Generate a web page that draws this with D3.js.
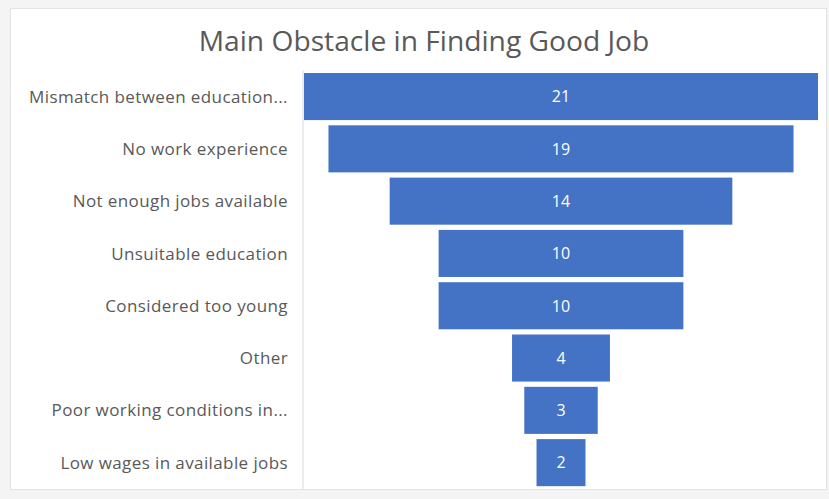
<!DOCTYPE html>
<html>
<head>
<meta charset="utf-8">
<script src="https://cdn.jsdelivr.net/npm/d3@7"></script>
<style>
  html, body { margin: 0; padding: 0; background: #f4f4f4; }
  svg { display: block; }
</style>
</head>
<body>
<svg id="chart" width="829" height="499"></svg>
<script>
// Funnel data: obstacle categories and their counts
const categories = [
  "Mismatch between education...",
  "No work experience",
  "Not enough jobs available",
  "Unsuitable education",
  "Considered too young",
  "Other",
  "Poor working conditions in...",
  "Low wages in available jobs"
];
const values = [21, 19, 14, 10, 10, 4, 3, 2];
const chartTitle = "Main Obstacle in Finding Good Job";

const svg = d3.select("#chart");
const font = "'Open Sans', 'Noto Sans', sans-serif";

// Chart frame
svg.append("rect")
  .attr("x", 10.5).attr("y", 8.5)
  .attr("width", 816).attr("height", 481)
  .attr("fill", "#ffffff")
  .attr("stroke", "#e3e3e3");

// Title
svg.append("text")
  .attr("x", 424).attr("y", 51)
  .attr("text-anchor", "middle")
  .attr("font-family", font)
  .attr("font-size", 28.2)
  .attr("fill", "#595959")
  .text(chartTitle);

// Plot area
const plotLeft = 304, plotRight = 818;
const centre = (plotLeft + plotRight) / 2;

const x = d3.scaleLinear()
  .domain([0, d3.max(values)])
  .range([0, plotRight - plotLeft]);

const y = d3.scaleBand()
  .domain(categories)
  .range([70.4, 488.8])
  .paddingInner(0.1)
  .paddingOuter(0.05);

const rows = categories.map((c, i) => ({ category: c, value: values[i] }));

// Category axis on the left
const yAxis = svg.append("g")
  .attr("transform", `translate(${plotLeft - 1},0)`)
  .call(d3.axisLeft(y).tickSize(0).tickPadding(15));
yAxis.select(".domain")
  .attr("stroke", "#d9d9d9")
  .attr("d", `M0,${y.range()[0]}V${y.range()[1] + 1}`);
yAxis.selectAll("text")
  .attr("font-family", font)
  .attr("font-size", 17)
  .attr("letter-spacing", 0.4)
  .attr("dy", "0.36em")
  .attr("fill", "#595959");

// Funnel bars, centred on the plot
svg.append("g").selectAll("rect")
  .data(rows)
  .join("rect")
  .attr("x", d => centre - x(d.value) / 2)
  .attr("y", d => y(d.category))
  .attr("width", d => x(d.value))
  .attr("height", y.bandwidth())
  .attr("fill", "#4472c4");

// Value labels
svg.append("g").selectAll("text")
  .data(rows)
  .join("text")
  .attr("x", centre)
  .attr("y", d => y(d.category) + y.bandwidth() / 2)
  .attr("dy", "0.36em")
  .attr("text-anchor", "middle")
  .attr("font-family", font)
  .attr("font-size", 16)
  .attr("fill", "#ffffff")
  .text(d => d.value);
</script>
</body>
</html>
